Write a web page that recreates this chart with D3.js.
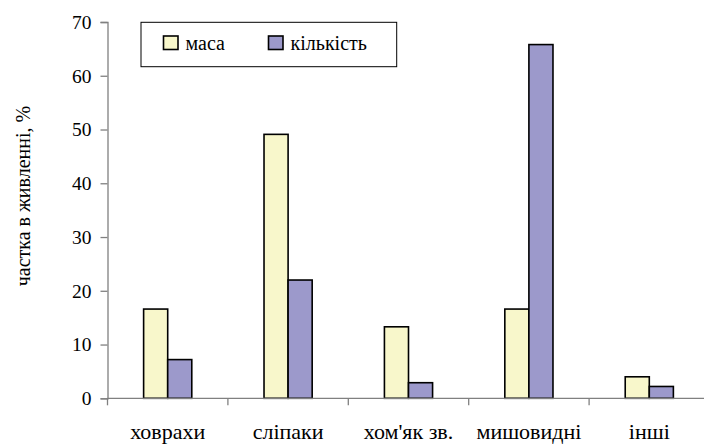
<!DOCTYPE html>
<html>
<head>
<meta charset="utf-8">
<script src="https://cdn.jsdelivr.net/npm/d3@7"></script>
<style>
  html, body { margin: 0; padding: 0; background: #fff; }
  svg { display: block; }
</style>
</head>
<body>
<svg id="chart" width="704" height="444"></svg>
<script>
// Частка видів здобичі в живленні
const categories = ["ховрахи", "сліпаки", "хом'як зв.", "мишовидні", "інші"];
const seriesNames = ["маса", "кількість"];
const masaValues = [16.6, 49.1, 13.3, 16.6, 4.0];
const kilkistValues = [7.2, 22.0, 2.9, 65.8, 2.2];
const yTicks = [0, 10, 20, 30, 40, 50, 60, 70];
const seriesColors = ["#F8F7CB", "#9C99CB"];
const yTitle = "частка в живленні, %";
const FONT = "'Liberation Serif', 'Times New Roman', Times, serif";

const rows = categories.map((c, i) => ({ cat: c, values: [masaValues[i], kilkistValues[i]] }));

const svg = d3.select("#chart");
const plotLeft = 107.5, plotRight = 709.5, plotTop = 22, plotBottom = 398.3;

const x = d3.scaleBand().domain(categories).range([plotLeft, plotRight]).padding(0);
const xInner = d3.scaleBand().domain(seriesNames)
  .range([x.bandwidth() * 0.3, x.bandwidth() * 0.7]).padding(0);
const y = d3.scaleLinear().domain([0, 70]).range([plotBottom, plotTop]);

// bars
const groups = svg.append("g").selectAll("g").data(rows).join("g")
  .attr("transform", d => `translate(${x(d.cat)},0)`);
groups.selectAll("rect")
  .data(d => d.values.map((v, i) => ({ s: seriesNames[i], v, i })))
  .join("rect")
  .attr("x", d => xInner(d.s))
  .attr("y", d => y(d.v))
  .attr("width", xInner.bandwidth())
  .attr("height", d => y(0) - y(d.v))
  .attr("fill", d => seriesColors[d.i])
  .attr("stroke", "#000")
  .attr("stroke-width", 1.6);

// y axis
const yAxis = d3.axisLeft(y).tickValues(yTicks).tickSize(7).tickPadding(9);
const gy = svg.append("g").attr("transform", `translate(${plotLeft},0)`).call(yAxis)
  .attr("font-family", FONT).attr("font-size", 19.5);
gy.select(".domain").attr("stroke", "#808080").attr("stroke-width", 1.3);
gy.selectAll(".tick line").attr("stroke", "#808080").attr("stroke-width", 1.3);
gy.selectAll(".tick text").attr("fill", "#000");

// x axis: ticks at category boundaries
const gx = svg.append("g").attr("transform", `translate(0,${plotBottom})`);
gx.append("line").attr("x1", plotLeft).attr("x2", plotRight).attr("stroke", "#808080").attr("stroke-width", 1.3);
gx.selectAll("line.tk").data(categories).join("line").attr("class", "tk")
  .attr("x1", d => x(d)).attr("x2", d => x(d)).attr("y1", 0).attr("y2", 7)
  .attr("stroke", "#808080").attr("stroke-width", 1.3);
gx.selectAll("text").data(categories).join("text")
  .attr("x", d => x(d) + x.bandwidth() / 2)
  .attr("y", 40.5)
  .attr("text-anchor", "middle")
  .attr("font-family", FONT)
  .attr("font-size", 22)
  .text(d => d);

// y title
svg.append("text")
  .attr("transform", `translate(30,196) rotate(-90)`)
  .attr("text-anchor", "middle")
  .attr("font-family", FONT)
  .attr("font-size", 20)
  .text(yTitle);

// legend
const lg = svg.append("g");
lg.append("rect").attr("x", 141).attr("y", 22.3).attr("width", 255.7).attr("height", 44.4)
  .attr("fill", "#fff").attr("stroke", "#000").attr("stroke-width", 1);
const legendX = [163.5, 268.5];
const items = lg.selectAll("g.item").data(seriesNames).join("g").attr("class", "item")
  .attr("transform", (d, i) => `translate(${legendX[i]},36)`);
items.append("rect").attr("width", 14.5).attr("height", 13.5)
  .attr("fill", (d, i) => seriesColors[i]).attr("stroke", "#000").attr("stroke-width", 1.6);
items.append("text").attr("x", 22).attr("y", 13.8)
  .attr("font-family", FONT).attr("font-size", 20).text(d => d);
</script>
</body>
</html>
